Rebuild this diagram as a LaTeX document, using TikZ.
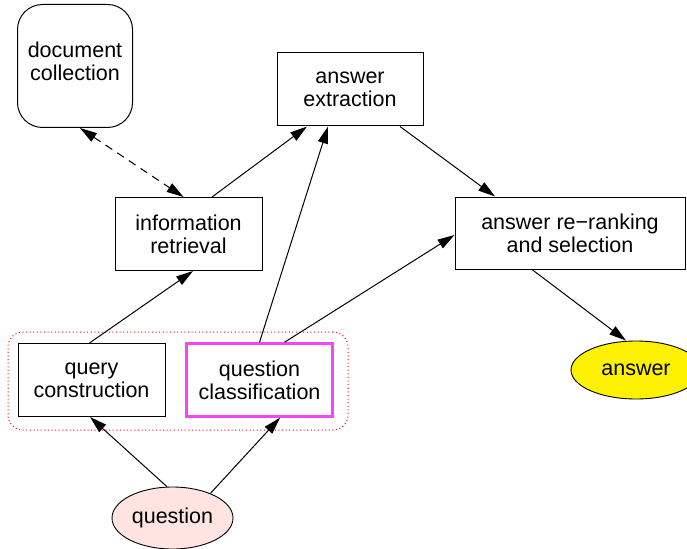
\documentclass[tikz,border=0pt]{standalone}
\usepackage{fontspec}
\setmainfont{Liberation Sans}
\usetikzlibrary{arrows.meta,shapes.geometric}
\definecolor{qpink}{RGB}{255,228,225}
\definecolor{qmag}{RGB}{245,70,245}
\begin{document}
\begin{tikzpicture}[x=1pt,y=-1pt,
  every node/.style={font=\fontsize{21.5}{23}\selectfont, align=center, inner sep=0pt},
  box/.style={draw, line width=1pt, rectangle, minimum height=73pt},
  edge/.style={line width=1pt, -{Triangle[length=17pt,width=10pt]}},
  ell/.style={draw, line width=0.9pt, ellipse}]
\useasboundingbox (0,0) rectangle (687,548);
\fill[white] (0,0) rectangle (687,548);
% group
\node[draw=red, line width=1pt, dash pattern=on 1pt off 2.6pt, rounded corners=15pt,
      minimum width=340pt, minimum height=98pt] (grp) at (178,381) {};
\node[draw, line width=1pt, rounded corners=25pt, minimum width=115pt, minimum height=123pt] (dc) at (75,66) {};
\node (dctext) at (75,61) {document\\collection};
\node[box, minimum width=146pt] (ae) at (350,89.5) {answer\\extraction};
\node[box, minimum width=147pt] (ir) at (188.5,234) {information\\retrieval};
\node[box, minimum width=230pt, minimum height=72pt] (rr) at (570,233) {answer re\char"2212ranking\\and selection};
\node[box, minimum width=147pt] (qcon) at (91.5,380) {query\\construction};
\node[draw=qmag, line width=2.5pt, minimum width=146pt, minimum height=73pt] (qcl) at (259.5,380) {question\\classification};
\node[ell, fill=yellow, minimum width=130pt, minimum height=58pt] (ans) at (636,370) {answer};
\node[ell, fill=qpink, minimum width=121pt, minimum height=62pt] (q) at (172.5,518) {question};
% edges
\draw[line width=1pt, dash pattern=on 8pt off 6pt,
  {Triangle[length=17pt,width=10pt]}-{Triangle[length=17pt,width=10pt]}]
  ([xshift=5pt]dc.south) -- ([xshift=-5pt]ir.north);
\draw[edge] ([xshift=23.5pt]ir.north) -- ([xshift=-43pt]ae.south);
\draw[edge] (qcl.north) -- ([xshift=-22pt]ae.south);
\draw[edge] ([xshift=25pt]qcl.north) -- ([yshift=-2pt]rr.west);
\draw[edge] ([xshift=50pt]ae.south) -- ([xshift=-75pt]rr.north);
\draw[edge] ([xshift=-38pt]rr.south) -- ([xshift=-10pt]ans.north);
\draw[edge] ([xshift=-2pt]qcon.north) -- ([xshift=4.5pt]ir.south);
\draw[edge] (q.100) -- ([xshift=-1.5pt]qcon.south);
\draw[edge] (q.33) -- ([xshift=20.5pt]qcl.south);
\end{tikzpicture}
\end{document}
